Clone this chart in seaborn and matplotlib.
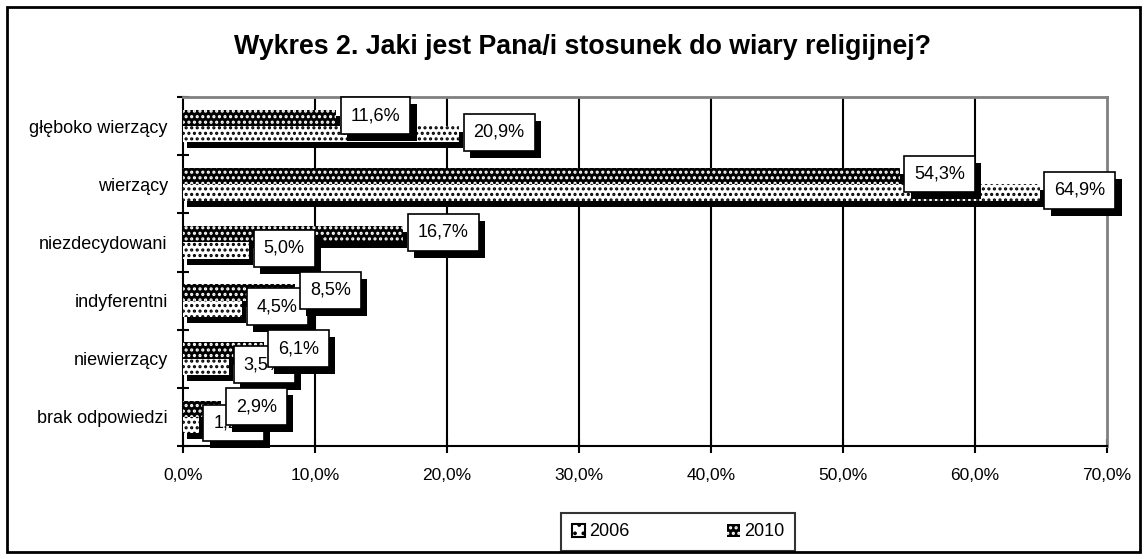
import matplotlib
matplotlib.use("Agg")
import matplotlib.pyplot as plt
import matplotlib.patches as mpatches
import matplotlib.patheffects as pe
import matplotlib.transforms as mtransforms
from matplotlib.ticker import FuncFormatter, FixedLocator
import pandas as pd
import seaborn as sns

# Data
categories = ['głęboko wierzący', 'wierzący', 'niezdecydowani',
              'indyferentni', 'niewierzący', 'brak odpowiedzi']
values_2006 = [20.9, 64.9, 5.0, 4.5, 3.5, 1.2]
values_2010 = [11.6, 54.3, 16.7, 8.5, 6.1, 2.9]
years = ['2006', '2010']
x_ticks = [0, 10, 20, 30, 40, 50, 60, 70]
title = 'Wykres 2. Jaki jest Pana/i stosunek do wiary religijnej?'

df = pd.DataFrame({
    'kategoria': categories * 2,
    'rok': ['2006'] * len(categories) + ['2010'] * len(categories),
    'procent': values_2006 + values_2010,
})

sns.set_style('white')
plt.rcParams['font.family'] = ['Liberation Sans', 'DejaVu Sans']
plt.rcParams['hatch.linewidth'] = 1.5
for key in ['text.color', 'axes.labelcolor', 'xtick.color', 'ytick.color']:
    plt.rcParams[key] = 'black'

fig = plt.figure(figsize=(11.47, 5.59), dpi=100)
ax = fig.add_axes([183 / 1147, 113 / 559, 924 / 1147, 349 / 559])

# 2010 drawn on top of each pair, as in the reference
sns.barplot(data=df, x='procent', y='kategoria', hue='rok', order=categories,
            hue_order=['2010', '2006'], orient='h', width=0.56, legend=False,
            saturation=1, ax=ax, zorder=3)

styles = {
    '2010': dict(facecolor='black', edgecolor='white', hatch='...'),
    '2006': dict(facecolor='white', edgecolor='black', hatch='...'),
}

# black drop shadow behind each bar
shadow_tr = ax.transData + mtransforms.ScaledTranslation(4 / 100, -6 / 100, fig.dpi_scale_trans)
for cont, yr in zip(ax.containers, ['2010', '2006']):
    for bar in cont:
        bar.set_facecolor(styles[yr]['facecolor'])
        bar.set_edgecolor(styles[yr]['edgecolor'])
        bar.set_hatch(styles[yr]['hatch'])
        bar.set_linewidth(0)
        sh = mpatches.Rectangle(bar.get_xy(), bar.get_width(), bar.get_height(),
                                facecolor='black', edgecolor='none',
                                transform=shadow_tr, zorder=2)
        ax.add_patch(sh)

# value labels in white boxes with shadow
for cont, yr, z in [(ax.containers[1], '2006', 5), (ax.containers[0], '2010', 6)]:
    for bar in cont:
        v = bar.get_width()
        yc = bar.get_y() + bar.get_height() / 2
        t = ax.annotate(f'{v:.1f}%'.replace('.', ','), xy=(v, yc),
                        xytext=(10.5, 1.5), textcoords='offset points',
                        ha='left', va='center', fontsize=13, zorder=z,
                        bbox=dict(boxstyle='square,pad=0.55', facecolor='white',
                                  edgecolor='black', linewidth=1.2))
        t.get_bbox_patch().set_path_effects(
            [pe.withSimplePatchShadow(offset=(4.5, -5), shadow_rgbFace='black', alpha=1)])

ax.set_xlim(0, 70)
ax.set_ylim(5.5, -0.5)
ax.xaxis.set_major_locator(FixedLocator(x_ticks))
ax.xaxis.set_major_formatter(FuncFormatter(lambda v, p: f'{v:.1f}%'.replace('.', ',')))
ax.set_xlabel('')
ax.set_ylabel('')

# vertical gridlines
for xv in x_ticks[1:-1]:
    ax.axvline(xv, color='black', linewidth=1.5, zorder=1)

ax.spines['left'].set_color('black')
ax.spines['left'].set_linewidth(1.5)
ax.spines['bottom'].set_color('black')
ax.spines['bottom'].set_linewidth(1.5)
ax.spines['top'].set_color('#808080')
ax.spines['top'].set_linewidth(2)
ax.spines['right'].set_color('#808080')
ax.spines['right'].set_linewidth(2)

ax.tick_params(axis='x', which='major', direction='inout', length=10, width=1.5,
               pad=11, labelsize=12.5, bottom=True, color='black')
ax.yaxis.set_minor_locator(FixedLocator([i - 0.5 for i in range(len(categories) + 1)]))
ax.tick_params(axis='y', which='minor', direction='inout', length=8, width=1.5,
               left=True, color='black')
ax.tick_params(axis='y', which='major', length=0, pad=11, labelsize=13)

fig.text(583 / 1147, 1 - 47 / 559, title, ha='center', va='center',
         fontsize=19.3, fontweight='bold', color='black')

handles = [mpatches.Patch(facecolor='white', edgecolor='black', hatch='..', linewidth=1.5),
           mpatches.Patch(facecolor='black', edgecolor='white', hatch='...', linewidth=0)]
leg = fig.legend(handles, years, loc='center', bbox_to_anchor=(678 / 1147, 1 - 532 / 559),
                 ncol=2, frameon=True, fancybox=False, fontsize=13,
                 handlelength=0.75, handleheight=0.75, handletextpad=0.2,
                 columnspacing=5.4, borderpad=0.6, borderaxespad=0)
leg.get_frame().set_edgecolor('black')
leg.get_frame().set_linewidth(1.5)
leg.get_frame().set_boxstyle('square', pad=0)

# outer chart border
fig.patches.append(mpatches.Rectangle((7 / 1147, 7 / 559), 1133 / 1147, 545 / 559,
                                      transform=fig.transFigure, fill=False,
                                      edgecolor='black', linewidth=2))

fig.savefig('out.png', dpi=100)
